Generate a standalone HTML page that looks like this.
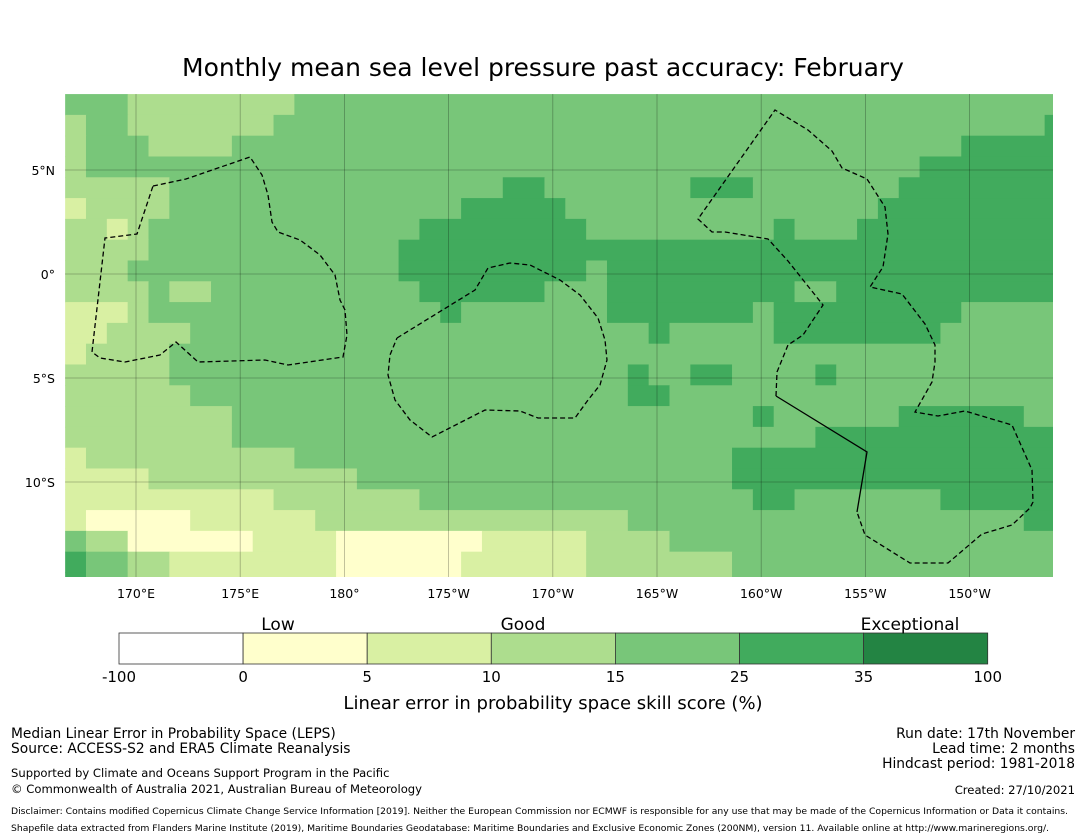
<!DOCTYPE html>
<html><head><meta charset="utf-8">
<style>
body{margin:0;background:#fff;width:1085px;height:839px;overflow:hidden;font-family:"DejaVu Sans","Liberation Sans",sans-serif;}
svg{position:absolute;left:0;top:0;font-family:"DejaVu Sans","Liberation Sans",sans-serif}
</style></head>
<body>
<svg id="s" width="1085" height="839" viewBox="0 0 1085 839">
<text x="543" y="76" font-size="25" text-anchor="middle">Monthly mean sea level pressure past accuracy: February</text>
<defs><clipPath id="mc"><rect x="65" y="94" width="988" height="483"/></clipPath></defs>
<g id="map" clip-path="url(#mc)"></g>
<g id="grid"></g>
<g id="bounds" fill="none" stroke="#000" stroke-width="1.3" clip-path="url(#mc)">
<polyline stroke-dasharray="5,3" points="153,186 186,179 250,157 262,175 268,195 272,222 278,232 300,240 320,255 335,275 340,300 345,310 347,335 343,357 288,365 265,360 198,362 176,342 160,355 125,362 100,358 92,352 105,238 137,234 153,186"/>
<polyline stroke-dasharray="5,3" points="397,338 475,290 488,268 510,263 530,265 560,280 580,295 598,318 605,340 607,360 600,385 588,400 575,418 538,418 520,411 485,410 432,437 410,420 395,400 388,375 390,355 397,338"/>
<polyline stroke-dasharray="5,3" points="776,396 777,372 788,345 803,335 823,305 788,261 768,239 725,232 712,232 698,219 775,110 808,130 832,151 842,168 867,179 885,207 888,234 883,267 870,287 902,294 925,324 935,345 935,362 932,382 915,412 938,416 965,411 1012,425 1032,470 1033,502 1030,508 1012,525 982,534 948,563 910,563 865,535 857,512"/>
<polyline points="776,396 867,452 857,512"/>
</g>
<g id="xt" font-size="12.5" text-anchor="middle" fill="#000"></g>
<g id="yt" font-size="12.5" text-anchor="end" fill="#000"></g>
<g id="cb"></g>
<g font-size="17" text-anchor="middle">
<text x="278" y="630">Low</text>
<text x="523" y="630">Good</text>
<text x="910" y="630">Exceptional</text>
</g>
<text x="553" y="709" font-size="18" text-anchor="middle">Linear error in probability space skill score (%)</text>
<g font-size="13.8">
<text x="11" y="738">Median Linear Error in Probability Space (LEPS)</text>
<text x="11" y="753">Source: ACCESS-S2 and ERA5 Climate Reanalysis</text>
<text x="11" y="777" font-size="11.6">Supported by Climate and Oceans Support Program in the Pacific</text>
<text x="11" y="793" font-size="11.6">© Commonwealth of Australia 2021, Australian Bureau of Meteorology</text>
</g>
<g font-size="13.8" text-anchor="end">
<text x="1075" y="738">Run date: 17th November</text>
<text x="1075" y="753">Lead time: 2 months</text>
<text x="1075" y="768">Hindcast period: 1981-2018</text>
<text x="1075" y="794" font-size="11.6">Created: 27/10/2021</text>
</g>
<g font-size="8.4">
<text x="11" y="814" textLength="1057" lengthAdjust="spacingAndGlyphs">Disclaimer: Contains modified Copernicus Climate Change Service Information [2019]. Neither the European Commission nor ECMWF is responsible for any use that may be made of the Copernicus Information or Data it contains.</text>
<text x="11" y="831" textLength="1038" lengthAdjust="spacingAndGlyphs">Shapefile data extracted from Flanders Marine Institute (2019), Maritime Boundaries Geodatabase: Maritime Boundaries and Exclusive Economic Zones (200NM), version 11. Available online at http://www.marineregions.org/.</text>
</g>
</svg>
<script>
// grid: 1-degree cells, run-length rows "category:count"
const lonStart = 166.6;   // west edge (deg E)
const latStart = 8.65;    // north edge
const gridRows = [
"5:3,4:8,5:37",
"4:1,5:2,4:7,5:37,6:1",
"4:1,5:3,4:4,5:35,6:5",
"4:1,5:40,6:7",
"4:5,5:16,6:2,5:7,6:3,5:7,6:8",
"3:1,4:4,5:14,6:5,5:15,6:9",
"4:2,3:1,4:1,5:13,6:8,5:9,6:1,5:3,6:10",
"4:4,5:12,6:32",
"4:3,5:13,6:9,5:1,6:22",
"4:4,5:1,4:2,5:10,6:6,5:3,6:9,5:2,6:11",
"3:3,4:1,5:14,6:1,5:7,6:7,5:1,6:9,5:5",
"3:2,4:4,5:22,6:1,5:5,6:8,5:6",
"3:1,4:4,5:43",
"4:5,5:22,6:1,5:2,6:2,5:4,6:1,5:11",
"4:6,5:21,6:2,5:19",
"4:8,5:25,6:1,5:6,6:6,5:2",
"4:8,5:28,6:12",
"3:1,4:10,5:21,6:16",
"3:4,4:10,5:18,6:16",
"3:10,4:7,5:16,6:2,5:7,6:6",
"3:1,2:5,3:6,4:15,5:19,6:2",
"5:1,4:2,2:6,3:4,2:7,3:5,4:4,5:19",
"6:1,5:2,4:2,3:8,2:6,3:6,4:7,5:16",
"6:1,5:2,4:2,3:8,2:6,3:6,4:7,5:16"
];
const lonTicks = [170,175,180,185,190,195,200,205,210];
const lonTickLabels = ["170°E","175°E","180°","175°W","170°W","165°W","160°W","155°W","150°W"];
const latTicks = [5,0,-5,-10];
const latTickLabels = ["5°N","0°","5°S","10°S"];
const cbBounds = ["-100","0","5","10","15","25","35","100"];
const catColors = {1:"#ffffff",2:"#ffffcc",3:"#d9f0a3",4:"#addd8e",5:"#78c679",6:"#41ab5d",7:"#238443"};

const PX = 20.84, PY = 20.8;
function xOf(lon){return 136 + (lon-170)*PX;}
function yOf(lat){return 274 - lat*PY;}
const NS="http://www.w3.org/2000/svg";
const map=document.getElementById('map');
gridRows.forEach((row,j)=>{
  let i=0;
  row.split(',').forEach(r=>{
    const [c,n]=r.split(':').map(Number);
    const el=document.createElementNS(NS,'rect');
    
    
    const x0=xOf(lonStart+i), x1=xOf(lonStart+i+n);
    const y0=yOf(latStart-j), y1=yOf(latStart-j-1);
    el.setAttribute('x',x0);el.setAttribute('y',y0);
    el.setAttribute('width',x1-x0+0.6);el.setAttribute('height',y1-y0+0.6);
    el.setAttribute('fill',catColors[c]);
    map.appendChild(el);
    i+=n;
  });
});
const grid=document.getElementById('grid');
lonTicks.forEach(l=>{
  const el=document.createElementNS(NS,'line');
  
  
  el.setAttribute('x1',xOf(l));el.setAttribute('x2',xOf(l));el.setAttribute('y1',94);el.setAttribute('y2',577);
  el.setAttribute('stroke','rgba(0,0,0,0.3)');el.setAttribute('stroke-width','0.8');
  grid.appendChild(el);
});
latTicks.forEach(l=>{
  const el=document.createElementNS(NS,'line');
  
  
  el.setAttribute('y1',yOf(l));el.setAttribute('y2',yOf(l));el.setAttribute('x1',65);el.setAttribute('x2',1053);
  el.setAttribute('stroke','rgba(0,0,0,0.3)');el.setAttribute('stroke-width','0.8');
  grid.appendChild(el);
});
const xt=document.getElementById('xt');
lonTicks.forEach((l,k)=>{
  const t=document.createElementNS(NS,'text');
  
  
  t.setAttribute('x',xOf(l));t.setAttribute('y',598);t.textContent=lonTickLabels[k];
  xt.appendChild(t);
});
const yt=document.getElementById('yt');
latTicks.forEach((l,k)=>{
  const t=document.createElementNS(NS,'text');
  
  
  t.setAttribute('x',55);t.setAttribute('y',yOf(l)+5);t.textContent=latTickLabels[k];
  yt.appendChild(t);
});
const cb=document.getElementById('cb');
const cbX0=119, cbW=124.1;
for(let k=0;k<7;k++){
  const r=document.createElementNS(NS,'rect');
  
  
  r.setAttribute('x',cbX0+k*cbW);r.setAttribute('y',633);r.setAttribute('width',cbW);r.setAttribute('height',31);
  r.setAttribute('fill',catColors[k+1]);r.setAttribute('stroke','#333');r.setAttribute('stroke-width','0.8');
  cb.appendChild(r);
}
cbBounds.forEach((b,k)=>{
  const t=document.createElementNS(NS,'text');
  
  
  t.setAttribute('x',cbX0+k*cbW);t.setAttribute('y',682);t.setAttribute('font-size','15');t.setAttribute('text-anchor','middle');
  t.textContent=b;cb.appendChild(t);
});
</script>
</body></html>
